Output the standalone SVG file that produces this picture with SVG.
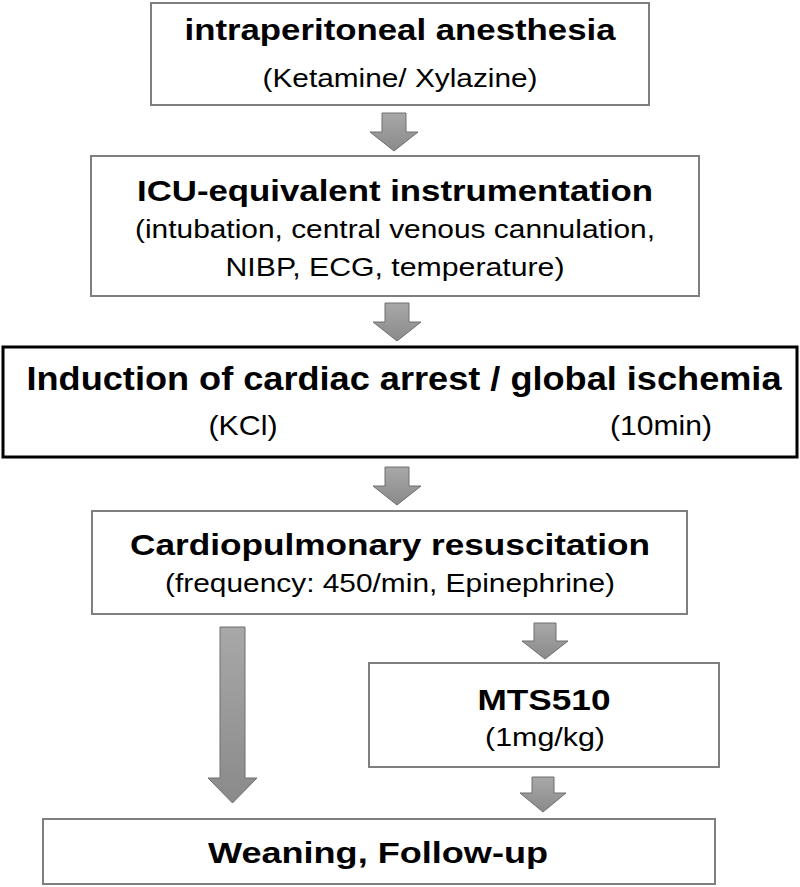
<svg xmlns="http://www.w3.org/2000/svg" width="800" height="887" viewBox="0 0 800 887">
<defs>
<linearGradient id="ag" x1="0" y1="0" x2="0" y2="1">
<stop offset="0" stop-color="#a8a8a8"/>
<stop offset="1" stop-color="#8a8a8a"/>
</linearGradient>
<style>
.box{fill:#fff;stroke:#7f7f7f;stroke-width:2}
.bold{fill:#fff;stroke:#000;stroke-width:3}
.t{font-family:"Liberation Sans",Arial,sans-serif;font-weight:bold;font-size:30px;fill:#000;text-anchor:middle}
.s{font-family:"Liberation Sans",Arial,sans-serif;font-size:26px;fill:#000;text-anchor:middle}
.arr{fill:url(#ag);stroke:#6e6e6e;stroke-width:1}
</style>
</defs>
<rect width="800" height="887" fill="#fff"/>
<g id="n1">
<rect class="box" x="151" y="3" width="498" height="102"/>
<text class="t" x="400" y="40" textLength="431" lengthAdjust="spacingAndGlyphs">intraperitoneal anesthesia</text>
<text class="s" x="400" y="87" textLength="275" lengthAdjust="spacingAndGlyphs">(Ketamine/ Xylazine)</text>
</g>
<g id="n2">
<rect class="box" x="91" y="156" width="608" height="140"/>
<text class="t" x="395" y="201" textLength="516" lengthAdjust="spacingAndGlyphs">ICU-equivalent instrumentation</text>
<text class="s" x="395" y="238" textLength="520" lengthAdjust="spacingAndGlyphs">(intubation, central venous cannulation,</text>
<text class="s" x="395" y="276" textLength="339" lengthAdjust="spacingAndGlyphs">NIBP, ECG, temperature)</text>
</g>
<g id="n3">
<rect class="bold" x="3" y="347" width="794" height="110"/>
<text class="t" x="404" y="390" font-size="34" textLength="755" lengthAdjust="spacingAndGlyphs" style="font-size:34px">Induction of cardiac arrest / global ischemia</text>
<text class="s" x="243" y="435" textLength="69" lengthAdjust="spacingAndGlyphs" style="font-size:28px">(KCl)</text>
<text class="s" x="661" y="435" textLength="102" lengthAdjust="spacingAndGlyphs" style="font-size:28px">(10min)</text>
</g>
<g id="n4">
<rect class="box" x="92" y="511" width="595" height="103"/>
<text class="t" x="390" y="555" textLength="520" lengthAdjust="spacingAndGlyphs">Cardiopulmonary resuscitation</text>
<text class="s" x="390" y="592" textLength="450" lengthAdjust="spacingAndGlyphs">(frequency: 450/min, Epinephrine)</text>
</g>
<g id="n5">
<rect class="box" x="369" y="663" width="350" height="104"/>
<text class="t" x="544" y="710" textLength="133" lengthAdjust="spacingAndGlyphs">MTS510</text>
<text class="s" x="545" y="746" textLength="120" lengthAdjust="spacingAndGlyphs">(1mg/kg)</text>
</g>
<g id="n6">
<rect class="box" x="43" y="819" width="672" height="65"/>
<text class="t" x="378" y="863" textLength="340" lengthAdjust="spacingAndGlyphs">Weaning, Follow-up</text>
</g>
<g id="connectors">
<path class="arr" d="M382,113 H406 V132 H418 L394,151 L370,132 H382 Z"/>
<path class="arr" d="M385,303 H409 V322 H421 L397,341 L373,322 H385 Z"/>
<path class="arr" d="M385,467 H409 V486 H421 L397,505 L373,486 H385 Z"/>
<path class="arr" d="M220,627 H245 V778 H257 L232.5,803 L208,778 H220 Z"/>
<path class="arr" d="M534,623 H556 V641 H568 L545,659 L522,641 H534 Z"/>
<path class="arr" d="M532,777 H554 V793 H566 L543,812 L520,793 H532 Z"/>
</g>
</svg>
